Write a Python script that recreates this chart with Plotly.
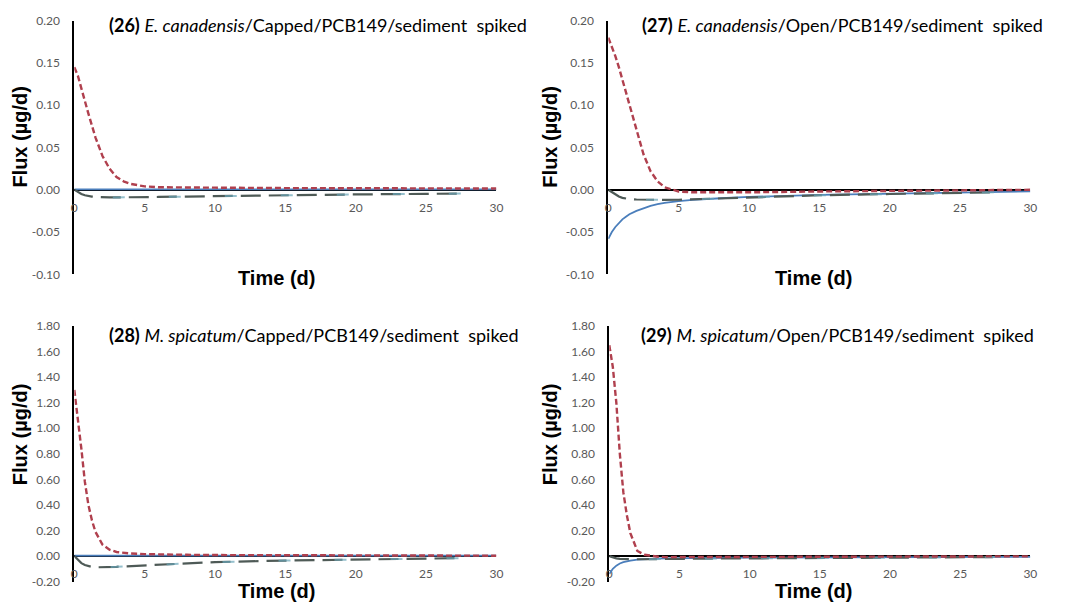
import plotly.graph_objects as go

W, H = 1075, 614

# ---------------- data ----------------
time_d = [0, 0.25, 0.5, 0.75, 1, 1.25, 1.5, 2, 2.5, 3, 3.5, 4, 5, 6, 8, 10, 15, 20, 25, 30]
dash_time_d = [0, 0.25, 0.5, 0.75, 1, 1.25, 1.5, 2, 2.5, 3, 3.5, 4, 5, 6, 8, 10, 15, 20, 25, 27.5]

# (26) E. canadensis / Capped
p26_red = [0.145, 0.135, 0.12, 0.104, 0.09, 0.076, 0.062, 0.040, 0.025, 0.015, 0.010, 0.007, 0.004, 0.003, 0.003, 0.0025, 0.002, 0.002, 0.0015, 0.0015]
p26_blue = [0.0005] * 20
p26_dash = [0, -0.003, -0.005, -0.0065, -0.0075, -0.008, -0.0085, -0.009, -0.009, -0.009, -0.009, -0.009, -0.0088, -0.0085, -0.008, -0.0075, -0.0065, -0.0055, -0.0048, -0.0045]

# (27) E. canadensis / Open
p27_red = [0.18, 0.17, 0.158, 0.145, 0.13, 0.115, 0.10, 0.07, 0.042, 0.022, 0.010, 0.003, -0.002, -0.003, -0.003, -0.003, -0.002, -0.0015, -0.001, 0.0]
p27_blue = [-0.058, -0.050, -0.044, -0.039, -0.035, -0.032, -0.029, -0.025, -0.022, -0.019, -0.017, -0.0155, -0.0135, -0.012, -0.010, -0.0085, -0.006, -0.0045, -0.003, -0.002]
p27_dash = [0, -0.003, -0.006, -0.008, -0.0095, -0.0105, -0.011, -0.0115, -0.0118, -0.012, -0.012, -0.012, -0.0118, -0.0112, -0.010, -0.009, -0.0065, -0.005, -0.0035, -0.003]

# (28) M. spicatum / Capped
p28_red = [1.30, 1.08, 0.84, 0.58, 0.40, 0.28, 0.19, 0.09, 0.05, 0.032, 0.024, 0.020, 0.015, 0.012, 0.010, 0.008, 0.006, 0.005, 0.004, 0.003]
p28_blue = [0.004] * 20
p28_dash = [0, -0.03, -0.055, -0.07, -0.08, -0.085, -0.088, -0.088, -0.086, -0.084, -0.081, -0.078, -0.072, -0.066, -0.056, -0.047, -0.035, -0.026, -0.018, -0.016]

# (29) M. spicatum / Open
p29_red = [1.65, 1.48, 1.20, 0.80, 0.50, 0.32, 0.18, 0.04, 0.01, 0.0, -0.005, -0.008, -0.008, -0.008, -0.007, -0.006, -0.005, -0.004, -0.003, -0.002]
p29_blue = [-0.14, -0.10, -0.075, -0.058, -0.048, -0.040, -0.035, -0.028, -0.024, -0.021, -0.019, -0.018, -0.016, -0.015, -0.013, -0.012, -0.010, -0.008, -0.007, -0.006]
p29_dash = [0, -0.01, -0.018, -0.022, -0.024, -0.025, -0.025, -0.025, -0.025, -0.024, -0.024, -0.023, -0.022, -0.021, -0.019, -0.018, -0.015, -0.012, -0.009, -0.008]

x_tickvals = [0, 5, 10, 15, 20, 25, 30]
x_ticktext = ["0", "5", "10", "15", "20", "25", "30"]
top_tickvals = [0.20, 0.15, 0.10, 0.05, 0.00, -0.05, -0.10]
top_ticktext = ["0.20", "0.15", "0.10", "0.05", "0.00", "-0.05", "-0.10"]
bot_tickvals = [1.80, 1.60, 1.40, 1.20, 1.00, 0.80, 0.60, 0.40, 0.20, 0.00, -0.20]
bot_ticktext = ["1.80", "1.60", "1.40", "1.20", "1.00", "0.80", "0.60", "0.40", "0.20", "0.00", "-0.20"]

titles = [
    "<b>(26)</b> <i>E. canadensis</i>/Capped/PCB149/sediment \u00a0spiked",
    "<b>(27)</b> <i>E. canadensis</i>/Open/PCB149/sediment \u00a0spiked",
    "<b>(28)</b> <i>M. spicatum</i>/Capped/PCB149/sediment \u00a0spiked",
    "<b>(29)</b> <i>M. spicatum</i>/Open/PCB149/sediment \u00a0spiked",
]

RED = "#b0404e"
BLUE = "#4a7ebb"
DASHC = "#4f5b57"
TEAL = "#6aa6b8"

# ---------------- layout helpers (pixel geometry) ----------------
def px_x(p):
    return p / W

def px_y(p):
    return 1 - p / H

panels = [
    dict(x0=72, x1=498, ytop=13, ybot=273, yr=[-0.10, 0.20], tv=top_tickvals, tt=top_ticktext,
         red=p26_red, blue=p26_blue, dash=p26_dash),
    dict(x0=611, x1=1037, ytop=13, ybot=273, yr=[-0.10, 0.20], tv=top_tickvals, tt=top_ticktext,
         red=p27_red, blue=p27_blue, dash=p27_dash),
    dict(x0=72, x1=498, ytop=326, ybot=588, yr=[-0.20, 1.80], tv=bot_tickvals, tt=bot_ticktext,
         red=p28_red, blue=p28_blue, dash=p28_dash),
    dict(x0=612, x1=1037, ytop=326, ybot=588, yr=[-0.20, 1.80], tv=bot_tickvals, tt=bot_ticktext,
         red=p29_red, blue=p29_blue, dash=p29_dash),
]

fig = go.Figure()
layout = {}
tick_font = dict(family="Lato, Open Sans, sans-serif", size=12, color="#595959")

for i, p in enumerate(panels):
    n = i + 1
    xa = "x" if n == 1 else f"x{n}"
    ya = "y" if n == 1 else f"y{n}"
    xkey = "xaxis" if n == 1 else f"xaxis{n}"
    ykey = "yaxis" if n == 1 else f"yaxis{n}"
    ylo, yhi = p["yr"]
    d_bot = px_y(p["ybot"])
    d_top = px_y(p["ytop"])
    zero_pos = d_bot + (0 - ylo) / (yhi - ylo) * (d_top - d_bot)

    layout[xkey] = dict(
        domain=[px_x(p["x0"]), px_x(p["x1"])], range=[0, 30], anchor="free", position=zero_pos,
        showgrid=False, zeroline=False, showline=True, linecolor="black", linewidth=2,
        tickvals=x_tickvals, ticktext=x_ticktext, ticks="", tickfont=tick_font,
        ticklabelstandoff=7, layer="below traces", fixedrange=True,
    )
    layout[ykey] = dict(
        domain=[d_bot, d_top], range=[ylo, yhi], anchor=xa,
        showgrid=False, zeroline=False, showline=True, linecolor="black", linewidth=2,
        tickvals=p["tv"], ticktext=p["tt"], ticks="", tickfont=tick_font,
        ticklabelstandoff=10, layer="below traces", fixedrange=True,
    )

    fig.add_trace(go.Scatter(x=time_d, y=p["blue"], mode="lines", xaxis=xa, yaxis=ya,
                             line=dict(color=BLUE, width=1.8)))
    fig.add_trace(go.Scatter(x=dash_time_d, y=p["dash"], mode="lines", xaxis=xa, yaxis=ya,
                             line=dict(color=DASHC, width=2.2, dash="20px,8px")))
    fig.add_trace(go.Scatter(x=dash_time_d, y=p["dash"], mode="lines", xaxis=xa, yaxis=ya,
                             line=dict(color=TEAL, width=2.0, dash="0px,40px,12px,4px"), opacity=0.7))
    fig.add_trace(go.Scatter(x=time_d, y=p["red"], mode="lines", xaxis=xa, yaxis=ya,
                             line=dict(color=RED, width=2.4, dash="6px,3px")))

annotations = []
axis_title_font = dict(family="Liberation Sans, Arial, sans-serif", size=20, color="black")
title_font = dict(family="Lato, Open Sans, sans-serif", size=18, color="black")

title_pos = [(105, 17), (643, 17), (105, 335), (642, 335)]
for (tx, ty), t in zip(title_pos, titles):
    annotations.append(dict(text=t, x=px_x(tx), y=px_y(ty), xref="paper", yref="paper",
                            xanchor="left", yanchor="middle", showarrow=False, font=title_font))

ylab_pos = [(17, 132), (552, 132), (17, 437), (552, 437)]
for (lx, ly) in ylab_pos:
    annotations.append(dict(text="<b>Flux (µg/d)</b>", x=px_x(lx), y=px_y(ly), xref="paper", yref="paper",
                            xanchor="center", yanchor="middle", textangle=-90, showarrow=False,
                            font=axis_title_font))

xlab_pos = [(276, 277), (818, 277), (276, 598), (818, 598)]
for (lx, ly) in xlab_pos:
    annotations.append(dict(text="<b>Time (d)</b>", x=px_x(lx), y=px_y(ly), xref="paper", yref="paper",
                            xanchor="center", yanchor="middle", showarrow=False,
                            font=axis_title_font))

fig.update_layout(
    width=W, height=H, margin=dict(l=0, r=0, t=0, b=0),
    paper_bgcolor="white", plot_bgcolor="white", showlegend=False,
    annotations=annotations, **layout,
)

fig.write_html("out.html", config={"displayModeBar": False})
